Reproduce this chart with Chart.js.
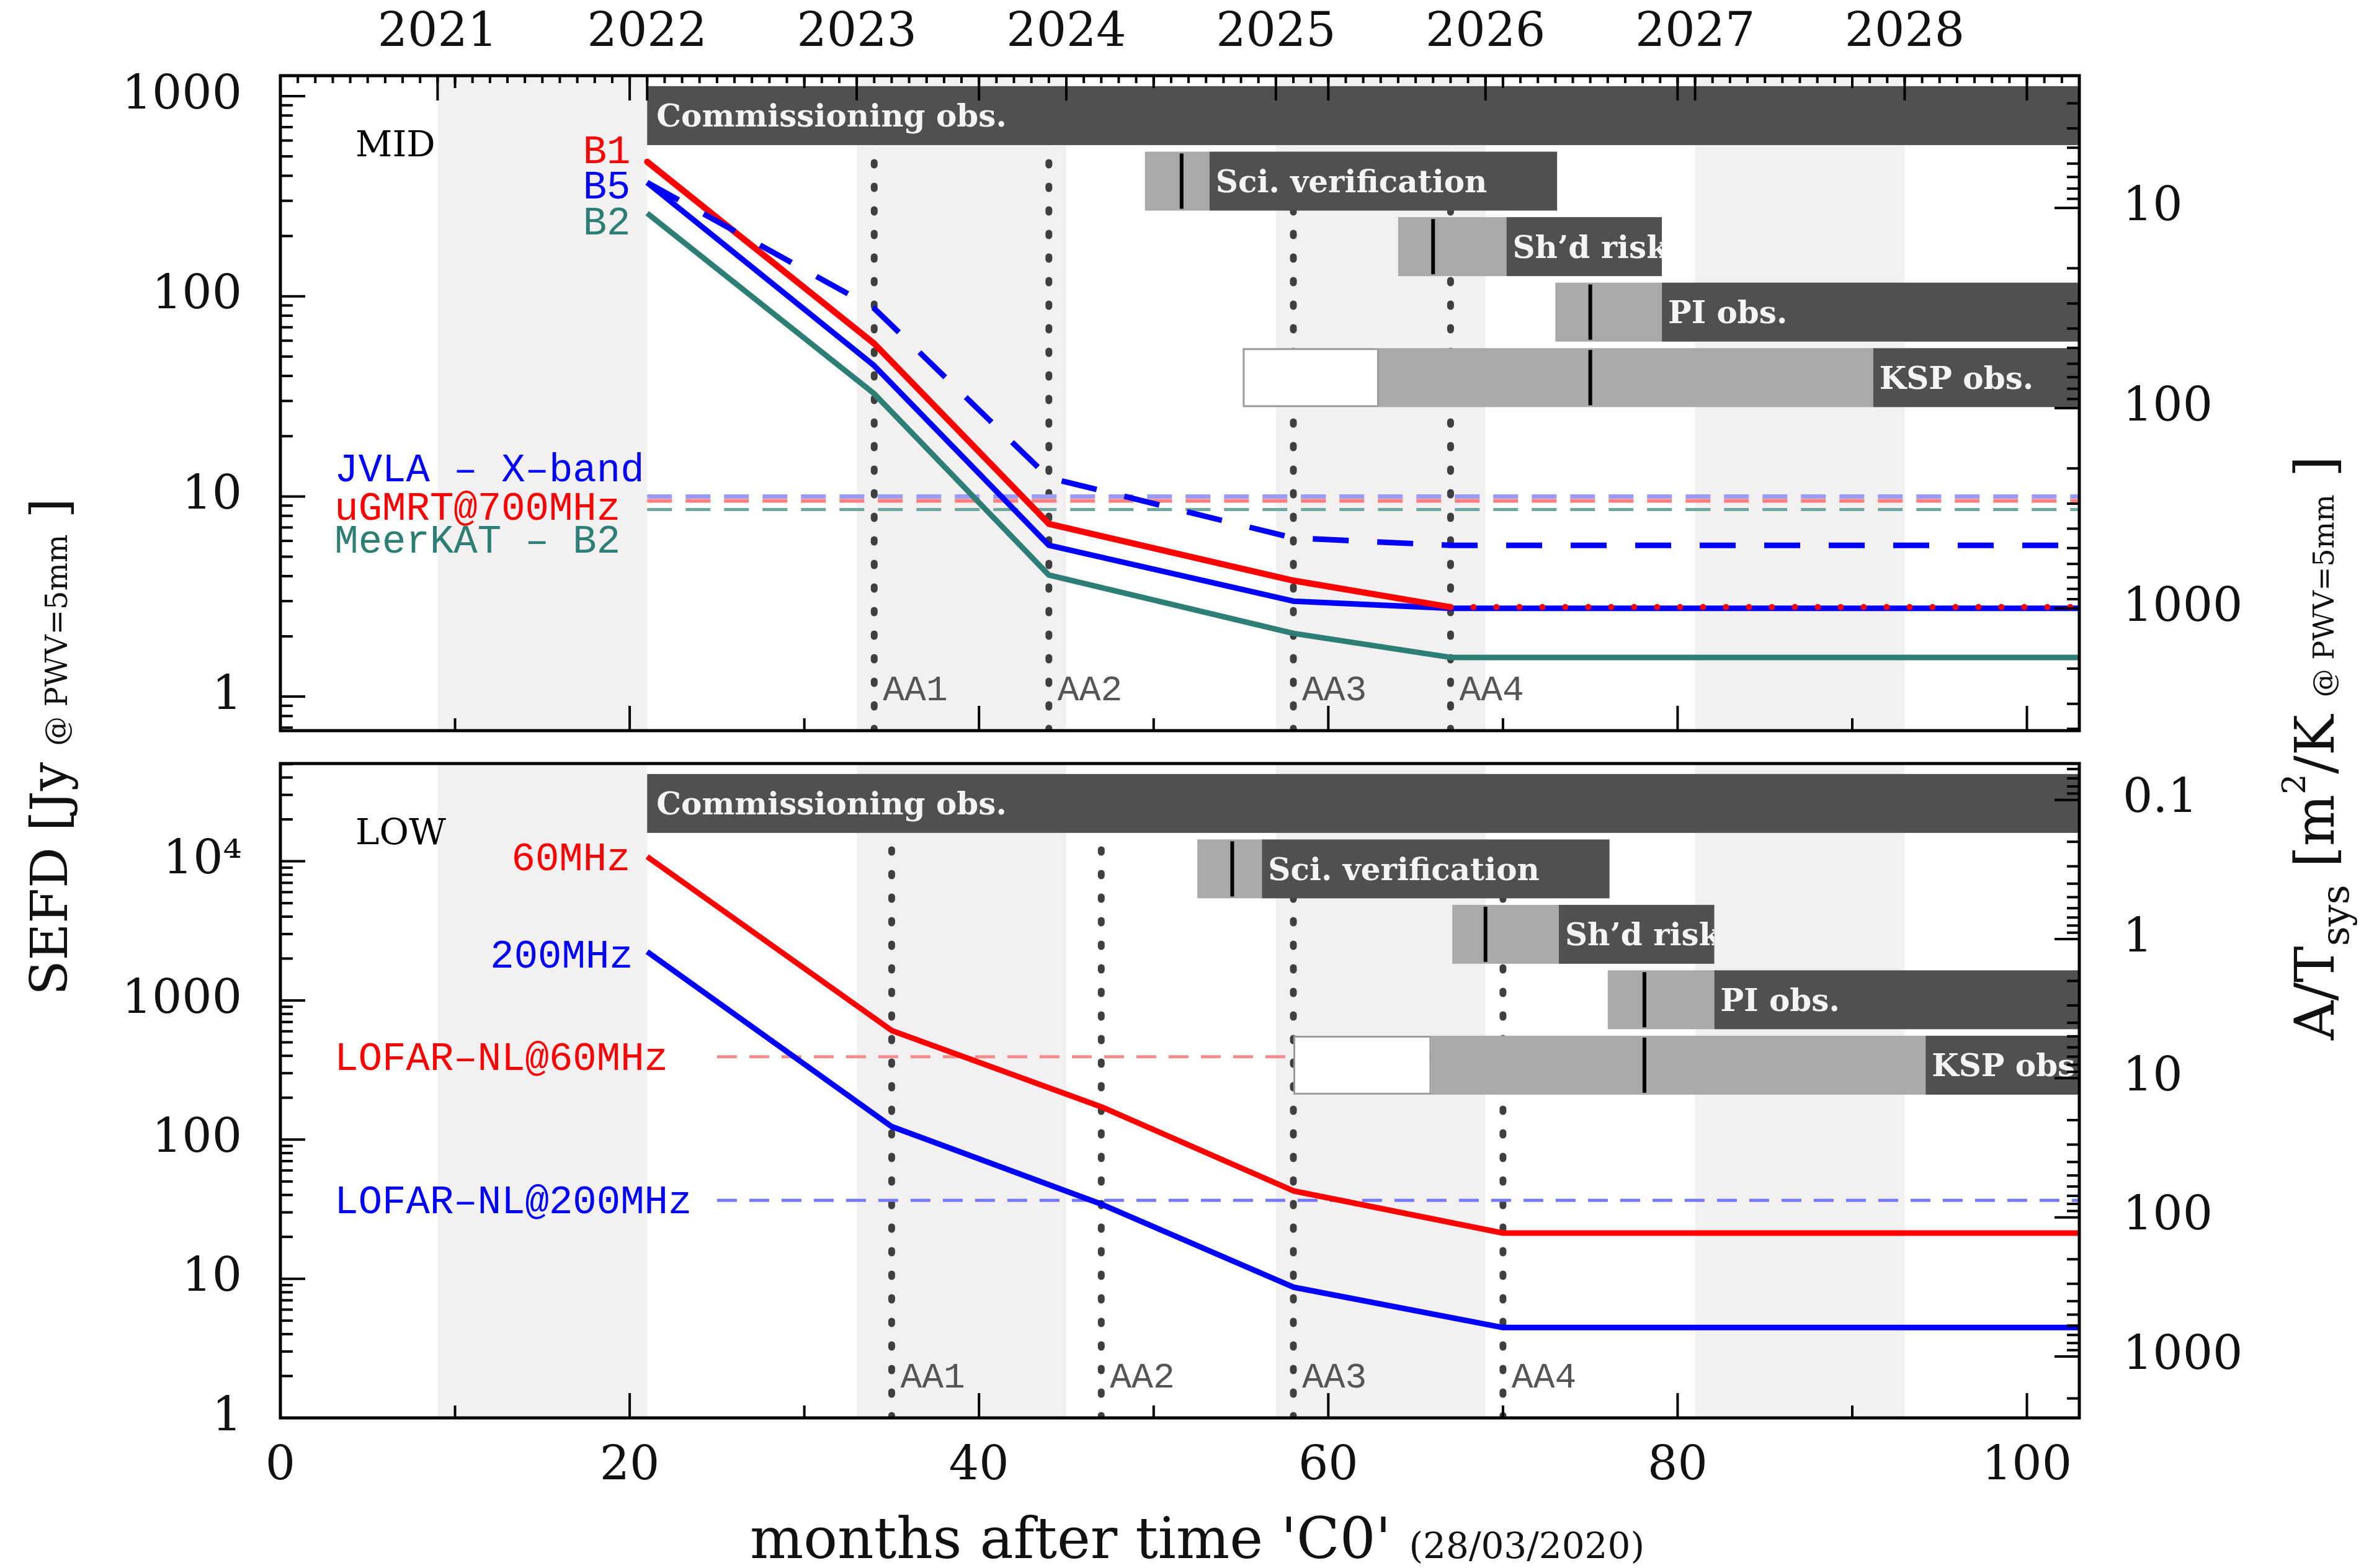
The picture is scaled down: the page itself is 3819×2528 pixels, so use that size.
<!DOCTYPE html>
<html lang="en">
<head>
<meta charset="utf-8">
<title>SKA MID / LOW sensitivity roll-out</title>
<script src="https://cdn.jsdelivr.net/npm/chart.js@4/dist/chart.umd.min.js"></script>
<style>
  html, body { margin: 0; padding: 0; background: #ffffff; }
  body { position: relative; width: 3819px; height: 2528px; overflow: hidden; }
  canvas { position: absolute; left: 0; top: 0; }
</style>
</head>
<body>
<canvas id="midChart" width="3819" height="2528"></canvas>
<canvas id="lowChart" width="3819" height="2528"></canvas>
<script>
// ---------- shared axes ----------
const X_MAX = 103;
const xTickMonths = [0, 10, 20, 30, 40, 50, 60, 70, 80, 90, 100];
const yearLabels = ["2021", "2022", "2023", "2024", "2025", "2026", "2027", "2028"];
const yearMonths = [9, 21, 33, 45, 57, 69, 81, 93];
const bandStart = [9, 33, 57, 81];
const bandEnd = [21, 45, 69, 93];
const midSefdRange = [0.676, 1265];
const lowSefdRange = [1, 50400];
const AT_FACTOR = 2761; // A/Tsys [m2/K] = 2 k_B / SEFD[Jy]
const aaNames = ["AA1", "AA2", "AA3", "AA4"];

// ---------- MID ----------
const midAA = [34, 44, 58, 67];
const midMonths = [21, 34, 44, 58, 67, 103];
const midB1 = [470, 58, 7.3, 3.8, 2.8, 2.8];
const midB5 = [370, 45, 5.7, 3.0, 2.76, 2.76];
const midB2 = [260, 32.6, 4.05, 2.07, 1.57, 1.57];
const midB5alt = [370, 87, 12.4, 6.2, 5.7, 5.7];
const midRefNames = ["JVLA – X–band", "uGMRT@700MHz", "MeerKAT – B2"];
const midRefValues = [10, 9.5, 8.6];
const midRefFrom = 21;

// ---------- LOW ----------
const lowAA = [35, 47, 58, 70];
const lowMonths = [21, 35, 47, 58, 70, 103];
const low60 = [10800, 608, 172, 42.8, 21.3, 21.3];
const low200 = [2240, 124, 34.4, 8.7, 4.46, 4.46];
const lowRefNames = ["LOFAR–NL@60MHz", "LOFAR–NL@200MHz"];
const lowRefValues = [394, 36.6];
const lowRefFrom = 25;

// ---------- observing phases (months) ----------
const phaseNames = ["Commissioning obs.", "Sci. verification", "Sh’d risk", "PI obs.", "KSP obs."];
const midWhiteStart = [null, null, null, null, 55.1];
const midLightStart = [null, 49.5, 64.0, 73.0, 62.9];
const midDarkStart = [21, 53.2, 70.2, 79.1, 91.2];
const midPhaseEnd = [103, 73.1, 79.1, 103, 103];
const midMarker = [null, 51.6, 66.0, 75.0, 75.0];
const lowWhiteStart = [null, null, null, null, 58.0];
const lowLightStart = [null, 52.5, 67.1, 76.0, 65.9];
const lowDarkStart = [21, 56.2, 73.2, 82.1, 94.2];
const lowPhaseEnd = [103, 76.1, 82.1, 103, 103];
const lowMarker = [null, 54.5, 69.0, 78.1, 78.1];

// ---------- look ----------
const W = 3819, H = 2528;
const AREA_LEFT = 452, AREA_RIGHT = 3352;
const MID_TOP = 122, MID_BOTTOM = 1178;
const LOW_TOP = 1231, LOW_BOTTOM = 2286;
const ROW_TOP = 0.16, ROW_BOTTOM = 1.06;

const RED = "#ff0000", BLUE = "#0000ff", TEAL = "#2d7f75";
const DARK = "#505050", LIGHT = "#a9a9a9", BAND = "#f2f0f0", AA_GREY = "#3f3f3f";
const SERIF = '"DejaVu Serif", serif';
const MONO = '"Liberation Mono", monospace';
const tickFont = { family: "DejaVu Serif", size: 76 };

function points(months, values) {
  return months.map((m, i) => ({ x: m, y: values[i] }));
}

function flat(from, value) {
  return [{ x: from, y: value }, { x: X_MAX, y: value }];
}

function vertical(month, range) {
  return [{ x: month, y: range[0] }, { x: month, y: range[1] }];
}

function line(data, color, width, dash, extra) {
  return Object.assign({
    data: data,
    borderColor: color,
    borderWidth: width,
    borderDash: dash || [],
    pointRadius: 0,
    fill: false,
    tension: 0,
    borderJoinStyle: "round"
  }, extra || {});
}

function aaLines(months, range) {
  return months.map(m => line(vertical(m, range), AA_GREY, 11, [4, 34], { borderCapStyle: "round" }));
}

function decadeTicks(scale) {
  const ticks = [];
  for (let e = Math.floor(Math.log10(scale.min)); e <= Math.ceil(Math.log10(scale.max)); e++) {
    const v = Math.pow(10, e);
    if (v >= scale.min * 0.9999 && v <= scale.max * 1.0001) ticks.push({ value: v });
  }
  scale.ticks = ticks;
}

function logValues(min, max) {
  const out = [];
  for (let e = Math.floor(Math.log10(min)); e <= Math.ceil(Math.log10(max)); e++) {
    for (let m = 1; m <= 9; m++) {
      const v = Number((m * Math.pow(10, e)).toPrecision(10));
      if (v >= min * 0.9999 && v <= max * 1.0001) out.push({ v: v, major: m === 1 });
    }
  }
  return out;
}

function sefdLabel(v) {
  return v >= 1e4 ? "10⁴" : String(v);
}

function baseScales(range) {
  return {
    x: {
      type: "linear", position: "bottom", min: 0, max: X_MAX,
      grid: { display: false, drawTicks: false }, border: { display: false },
      ticks: { display: false },
      afterBuildTicks: s => { s.ticks = xTickMonths.map(v => ({ value: v })); }
    },
    y: {
      type: "logarithmic", position: "left", min: range[0], max: range[1],
      grid: { display: false, drawTicks: false }, border: { display: false },
      afterBuildTicks: decadeTicks,
      ticks: { font: tickFont, color: "#111", padding: 62, autoSkip: false, callback: sefdLabel },
      afterFit: s => { s.width = AREA_LEFT; }
    },
    y2: {
      type: "logarithmic", position: "right", reverse: true,
      min: AT_FACTOR / range[1], max: AT_FACTOR / range[0],
      grid: { display: false, drawTicks: false }, border: { display: false },
      afterBuildTicks: decadeTicks,
      ticks: { font: tickFont, color: "#111", padding: 70, autoSkip: false, callback: v => String(v) },
      afterFit: s => { s.width = W - AREA_RIGHT; }
    },
    // phase rows: 0 = top row, laid out on the chart area with zero width
    row: {
      type: "linear", position: "right", min: 0, max: 10, reverse: true,
      grid: { display: false, drawTicks: false }, border: { display: false },
      ticks: { display: false },
      afterFit: s => { s.width = 0; }
    }
  };
}

function drawPhases(chart, ph) {
  const { ctx, chartArea: a } = chart;
  const x = chart.scales.x, row = chart.scales.row;
  const px = v => x.getPixelForValue(v);
  ctx.save();
  ctx.beginPath();
  ctx.rect(a.left, a.top, a.right - a.left, a.bottom - a.top);
  ctx.clip();
  phaseNames.forEach((name, i) => {
    const top = row.getPixelForValue(i + ROW_TOP);
    const h = row.getPixelForValue(i + ROW_BOTTOM) - top;
    if (ph.white[i] != null) {
      const x0 = px(ph.white[i]), x1 = px(ph.light[i]);
      ctx.fillStyle = "#ffffff";
      ctx.fillRect(x0, top, x1 - x0, h);
      ctx.strokeStyle = "#9a9a9a";
      ctx.lineWidth = 3;
      ctx.strokeRect(x0 + 1.5, top + 1.5, x1 - x0 - 3, h - 3);
    }
    if (ph.light[i] != null) {
      const l0 = px(ph.light[i]), l1 = px(ph.dark[i]);
      ctx.fillStyle = LIGHT;
      ctx.fillRect(l0, top, l1 - l0, h);
    }
    const d0 = px(ph.dark[i]), d1 = px(ph.end[i]);
    ctx.fillStyle = DARK;
    ctx.fillRect(d0, top, d1 - d0, h);
    if (ph.marker[i] != null) {
      ctx.fillStyle = "#000";
      ctx.fillRect(px(ph.marker[i]) - 3, top + 3, 6, h - 6);
    }
    ctx.save();
    ctx.beginPath();
    ctx.rect(d0, top, d1 - d0, h);
    ctx.clip();
    ctx.fillStyle = "#f4f4f4";
    ctx.font = "bold 50px " + SERIF;
    ctx.textAlign = "left";
    ctx.textBaseline = "alphabetic";
    ctx.fillText(name, d0 + (i === 0 ? 15 : 10), top + h / 2 + 18);
    ctx.restore();
  });
  ctx.restore();
}

function drawTexts(chart, panel) {
  const { ctx, chartArea: a } = chart;
  const x = chart.scales.x, y = chart.scales.y;
  ctx.save();
  ctx.textBaseline = "alphabetic";
  panel.labels.forEach(l => {
    ctx.font = l.font;
    ctx.fillStyle = l.color;
    ctx.textAlign = l.align;
    ctx.fillText(l.text, x.getPixelForValue(l.month), y.getPixelForValue(l.value));
  });
  ctx.font = "58px " + MONO;
  ctx.fillStyle = "#555";
  ctx.textAlign = "left";
  panel.aa.forEach((m, i) => {
    ctx.fillText(aaNames[i], x.getPixelForValue(m) + 14, a.bottom - 49);
  });
  ctx.restore();
}

function drawFrame(chart, panel) {
  const { ctx, chartArea: a } = chart;
  const x = chart.scales.x, y = chart.scales.y, y2 = chart.scales.y2;
  const seg = (x0, y0, x1, y1) => { ctx.beginPath(); ctx.moveTo(x0, y0); ctx.lineTo(x1, y1); ctx.stroke(); };
  ctx.save();
  ctx.strokeStyle = "#000";
  ctx.lineWidth = 4;
  logValues(y.min, y.max).forEach(t => {
    const p = y.getPixelForValue(t.v);
    seg(a.left, p, a.left + (t.major ? 40 : 20), p);
  });
  logValues(y2.min, y2.max).forEach(t => {
    const p = y2.getPixelForValue(t.v);
    seg(a.right, p, a.right - (t.major ? 40 : 20), p);
  });
  xTickMonths.forEach(m => {
    const p = x.getPixelForValue(m);
    const len = m % 20 === 0 ? 40 : 20;
    seg(p, a.bottom, p, a.bottom - len);
    if (panel.topTicks) seg(p, a.top, p, a.top + len);
  });
  if (panel.topTicks) {
    for (let m = 1; m < X_MAX; m++) {
      const p = x.getPixelForValue(m);
      seg(p, a.top, p, a.top + 12);
    }
    yearMonths.forEach(m => {
      const p = x.getPixelForValue(m);
      seg(p, a.top, p, a.top + 40);
    });
  }
  ctx.lineWidth = 5;
  ctx.strokeRect(a.left, a.top, a.right - a.left, a.bottom - a.top);
  ctx.restore();
}

function drawRun(ctx, parts, cx, baseline) {
  let total = 0;
  parts.forEach(p => {
    ctx.font = p.size + "px " + SERIF;
    p.w = ctx.measureText(p.text).width;
    total += p.w;
  });
  let pos = cx - total / 2;
  parts.forEach(p => {
    ctx.font = p.size + "px " + SERIF;
    ctx.fillText(p.text, pos, baseline + (p.dy || 0));
    pos += p.w;
  });
}

function drawAxisTitles(chart) {
  const ctx = chart.ctx;
  ctx.save();
  ctx.fillStyle = "#111";
  ctx.textAlign = "left";
  ctx.textBaseline = "alphabetic";

  drawRun(ctx, [
    { text: "months after time 'C0' ", size: 91 },
    { text: "(28/03/2020)", size: 58 }
  ], 1930, 2512);

  ctx.save();
  ctx.translate(108, 1204);
  ctx.rotate(-Math.PI / 2);
  drawRun(ctx, [
    { text: "SEFD [Jy ", size: 82 },
    { text: "@ PWV=5mm", size: 48 },
    { text: " ]", size: 82 }
  ], 0, 0);
  ctx.restore();

  ctx.save();
  ctx.translate(3762, 1206);
  ctx.rotate(-Math.PI / 2);
  drawRun(ctx, [
    { text: "A/T", size: 88 },
    { text: "sys", size: 62, dy: 24 },
    { text: " [m", size: 88 },
    { text: "2", size: 52, dy: -46 },
    { text: "/K ", size: 88 },
    { text: "@ PWV=5mm", size: 46 },
    { text: " ]", size: 88 }
  ], 0, 0);
  ctx.restore();

  ctx.restore();
}

function decor(panel) {
  return {
    id: "decor" + panel.name,
    beforeDatasetsDraw(chart) {
      const { ctx, chartArea: a } = chart;
      const x = chart.scales.x;
      ctx.save();
      ctx.fillStyle = BAND;
      bandStart.forEach((s, i) => {
        const x0 = x.getPixelForValue(s), x1 = x.getPixelForValue(bandEnd[i]);
        ctx.fillRect(x0, a.top, x1 - x0, a.bottom - a.top);
      });
      ctx.restore();
    },
    afterDatasetsDraw(chart) {
      drawPhases(chart, panel.phases);
      drawTexts(chart, panel);
      drawFrame(chart, panel);
    },
    afterDraw(chart) {
      if (panel.titles) drawAxisTitles(chart);
    }
  };
}

const commonOptions = {
  responsive: false,
  animation: false,
  devicePixelRatio: 1,
  events: [],
  plugins: { legend: { display: false }, tooltip: { enabled: false } }
};

// ---------- MID panel ----------
const labelFont = "64px " + MONO;
const nameFont = "58px " + SERIF;

const midPanel = {
  name: "MID",
  aa: midAA,
  topTicks: true,
  titles: false,
  phases: { white: midWhiteStart, light: midLightStart, dark: midDarkStart, end: midPhaseEnd, marker: midMarker },
  labels: [
    { text: "MID", color: "#000", font: nameFont, align: "left", month: 4.3, value: 500 },
    { text: "B1", color: RED, font: labelFont, align: "right", month: 20.05, value: 461 },
    { text: "B5", color: BLUE, font: labelFont, align: "right", month: 20.05, value: 307 },
    { text: "B2", color: TEAL, font: labelFont, align: "right", month: 20.05, value: 203 },
    { text: midRefNames[0], color: BLUE, font: labelFont, align: "left", month: 3.1, value: 11.86 },
    { text: midRefNames[1], color: RED, font: labelFont, align: "left", month: 3.1, value: 7.67 },
    { text: midRefNames[2], color: TEAL, font: labelFont, align: "left", month: 3.1, value: 5.25 }
  ]
};

const midScales = baseScales(midSefdRange);
midScales.x.afterFit = s => { s.height = H - MID_BOTTOM; };
midScales.xTop = {
  type: "linear", position: "top", min: 0, max: X_MAX,
  grid: { display: false, drawTicks: false }, border: { display: false },
  afterBuildTicks: s => { s.ticks = yearMonths.map(v => ({ value: v })); },
  ticks: { font: tickFont, color: "#111", padding: 22, autoSkip: false, maxRotation: 0,
           callback: (v, i) => yearLabels[i] },
  afterFit: s => { s.height = MID_TOP; }
};

new Chart(document.getElementById("midChart"), {
  type: "line",
  data: {
    datasets: [
      line(points(midMonths, midB5alt), BLUE, 9, [58, 46]),
      line(points(midMonths, midB1), RED, 10, [], {
        borderCapStyle: "round",
        segment: { borderDash: c => (c.p0.parsed.x >= midAA[3] ? [0, 37] : undefined) }
      }),
      line(points(midMonths, midB5), BLUE, 9),
      line(points(midMonths, midB2), TEAL, 9),
      line(flat(midRefFrom, midRefValues[0]), "#9a9aff", 7, [40, 22]),
      line(flat(midRefFrom, midRefValues[1]), "#ff7f7f", 6, [40, 22]),
      line(flat(midRefFrom, midRefValues[2]), "#70a8a0", 5, [40, 22]),
      ...aaLines(midAA, midSefdRange)
    ]
  },
  options: Object.assign({}, commonOptions, {
    layout: { padding: 0 },
    scales: midScales
  }),
  plugins: [decor(midPanel)]
});

// ---------- LOW panel ----------
const lowPanel = {
  name: "LOW",
  aa: lowAA,
  topTicks: false,
  titles: true,
  phases: { white: lowWhiteStart, light: lowLightStart, dark: lowDarkStart, end: lowPhaseEnd, marker: lowMarker },
  labels: [
    { text: "LOW", color: "#000", font: nameFont, align: "left", month: 4.3, value: 13300 },
    { text: "60MHz", color: RED, font: labelFont, align: "right", month: 20.05, value: 8650 },
    { text: "200MHz", color: BLUE, font: labelFont, align: "right", month: 20.2, value: 1725 },
    { text: lowRefNames[0], color: RED, font: labelFont, align: "left", month: 3.1, value: 316 },
    { text: lowRefNames[1], color: BLUE, font: labelFont, align: "left", month: 3.1, value: 29.7 }
  ]
};

const lowScales = baseScales(lowSefdRange);
lowScales.x.ticks = { display: true, font: tickFont, color: "#111", padding: 34, autoSkip: false,
                      maxRotation: 0, callback: v => (v % 20 === 0 ? String(v) : "") };
lowScales.x.afterFit = s => { s.height = H - LOW_BOTTOM; };

new Chart(document.getElementById("lowChart"), {
  type: "line",
  data: {
    datasets: [
      line(points(lowMonths, low60), RED, 9),
      line(points(lowMonths, low200), BLUE, 9),
      line(flat(lowRefFrom, lowRefValues[0]), "#f78c8c", 5, [32, 20]),
      line(flat(lowRefFrom, lowRefValues[1]), "#7777ff", 5, [32, 20]),
      ...aaLines(lowAA, lowSefdRange)
    ]
  },
  options: Object.assign({}, commonOptions, {
    layout: { padding: { top: LOW_TOP, left: 0, right: 0, bottom: 0 } },
    scales: lowScales
  }),
  plugins: [decor(lowPanel)]
});
</script>
</body>
</html>
